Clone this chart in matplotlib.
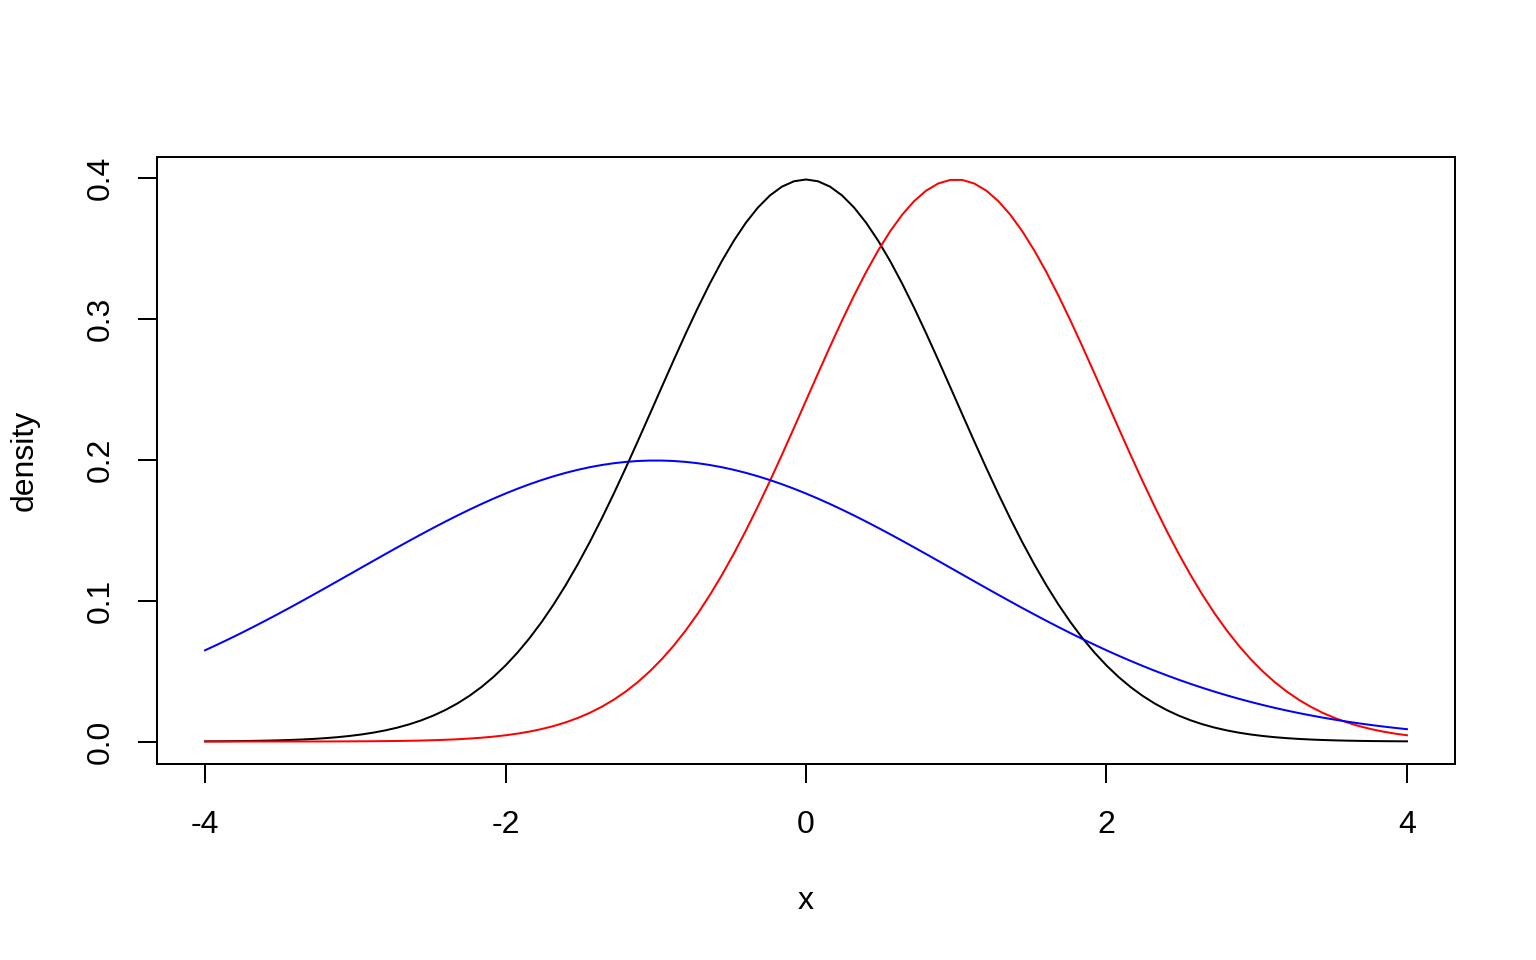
import numpy as np
import matplotlib
matplotlib.use("Agg")
import matplotlib.pyplot as plt

# three normal densities: mean / sd / colour
means = [0, 1, -1]
sds = [1, 1, 2]
colors = ["black", "red", "blue"]

x_ticks = [-4, -2, 0, 2, 4]
y_ticks = [0.0, 0.1, 0.2, 0.3, 0.4]
x_from, x_to = -4, 4

plt.rcParams['font.family'] = ['Liberation Sans', 'DejaVu Sans']

fig = plt.figure(figsize=(15.36, 9.6), dpi=100)
ax = fig.add_axes([157/1536, 1 - 764/960, (1455 - 157)/1536, (764 - 157)/960])

xs = np.linspace(x_from, x_to, 101)
for m, s, c in zip(means, sds, colors):
    ys = np.exp(-0.5 * ((xs - m) / s) ** 2) / (s * np.sqrt(2 * np.pi))
    ax.plot(xs, ys, color=c, lw=1.44)

# R style 4% padding
ax.set_xlim(-4.32, 4.32)
ymax = 1 / np.sqrt(2 * np.pi)
ax.set_ylim(-0.04 * ymax, 1.04 * ymax)

ax.set_xticks(x_ticks)
ax.set_xticklabels([str(v) for v in x_ticks])
ax.set_yticks(y_ticks)
ax.set_yticklabels([f"{v:.1f}" for v in y_ticks], rotation=90, va='center')

ax.tick_params(direction='out', length=13.8, width=1.44, labelsize=23, color='black')
ax.tick_params(axis='x', pad=19)
ax.tick_params(axis='y', pad=16)
for sp in ax.spines.values():
    sp.set_linewidth(1.44)

fig.text(806/1536, 1 - 901/960, "x", fontsize=23, ha='center', va='center')
fig.text(25/1536, 1 - 460/960, "density", fontsize=23, ha='center', va='center', rotation=90)

fig.savefig("out.png", dpi=100)
